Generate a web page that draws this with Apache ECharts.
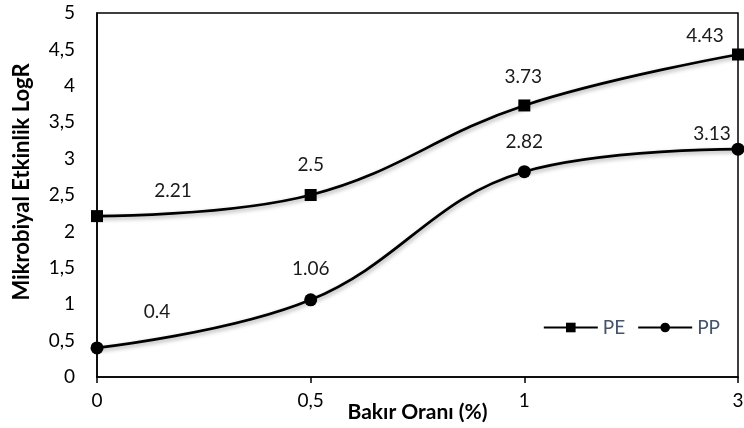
<!DOCTYPE html>
<html>
<head>
<meta charset="utf-8">
<script src="https://cdn.jsdelivr.net/npm/echarts@6/dist/echarts.min.js"></script>
<style>
  html, body { margin: 0; padding: 0; background: #ffffff; }
  #chart { width: 744px; height: 428px; }
</style>
</head>
<body>
<div id="chart"></div>
<script>
// Copper ratio categories on the x axis
const categories = ['0', '0,5', '1', '3'];
// Microbial activity (log reduction) per material
const pe = [2.21, 2.5, 3.73, 4.43];
const pp = [0.4, 1.06, 2.82, 3.13];
const seriesNames = ['PE', 'PP'];

// Label nudges (pixels, relative to each point)
const peLabelOffsets = [[76, -25], [0, -30], [-1, -29], [-33, -19]];
const ppLabelOffsets = [[60, -36], [0, -31], [0, -30], [-26, -15]];

const FONT = 'Lato, "Liberation Sans", sans-serif';

function withLabels(values, offsets) {
  return values.map((v, i) => ({
    value: v,
    label: { offset: offsets[i] }
  }));
}

const lineShadow = {
  color: '#000000',
  width: 2.75,
  shadowColor: 'rgba(0,0,0,0.35)',
  shadowBlur: 4,
  shadowOffsetX: 1,
  shadowOffsetY: 2
};

const labelStyle = {
  show: true,
  position: 'inside',
  color: '#1a1a1a',
  fontSize: 19,
  fontFamily: FONT,
  formatter: p => String(p.value)
};

const chart = echarts.init(document.getElementById('chart'), null, { renderer: 'canvas' });
chart.setOption({
  animation: false,
  backgroundColor: '#ffffff',
  grid: {
    left: 97, right: 6, top: 13, bottom: 51,
    outerBoundsMode: 'none',
    containLabel: false,
    show: true, borderColor: '#000000', borderWidth: 1.5,
    backgroundColor: 'transparent'
  },
  legend: {
    right: 19, top: 313,
    itemWidth: 54, itemHeight: 12, itemGap: 12,
    textStyle: { color: '#44546A', fontSize: 19, fontFamily: FONT },
    data: seriesNames
  },
  xAxis: {
    type: 'category',
    data: categories,
    boundaryGap: false,
    name: 'Bakır Oranı (%)',
    nameLocation: 'middle',
    nameGap: 25,
    nameMoveOverlap: false,
    nameTextStyle: { color: '#000000', fontWeight: 'bold', fontSize: 21, fontFamily: FONT },
    axisLine: { lineStyle: { color: '#000000', width: 1.5 } },
    axisTick: { show: true, length: 6, lineStyle: { color: '#000000', width: 1.5 } },
    axisLabel: { color: '#000000', fontSize: 19, fontFamily: FONT, margin: 14 },
    splitLine: { show: false }
  },
  yAxis: {
    type: 'value',
    min: 0, max: 5, interval: 0.5,
    name: 'Mikrobiyal Etkinlik LogR',
    nameLocation: 'middle',
    nameGap: 64,
    nameMoveOverlap: false,
    nameTextStyle: { color: '#000000', fontWeight: 'bold', fontSize: 22, fontFamily: FONT, padding: [0, 0, 0, 26] },
    axisLine: { show: true, lineStyle: { color: '#000000', width: 1.5 } },
    axisTick: { show: false },
    axisLabel: {
      color: '#000000', fontSize: 19, fontFamily: FONT, margin: 22,
      formatter: v => String(v).replace('.', ',')
    },
    splitLine: { show: false }
  },
  series: [
    {
      name: seriesNames[0],
      type: 'line',
      smooth: 0.4,
      data: withLabels(pe, peLabelOffsets),
      symbol: 'rect',
      symbolSize: 12,
      itemStyle: { color: '#000000' },
      lineStyle: lineShadow,
      label: labelStyle,
      z: 3
    },
    {
      name: seriesNames[1],
      type: 'line',
      smooth: 0.4,
      data: withLabels(pp, ppLabelOffsets),
      symbol: 'circle',
      symbolSize: 13,
      itemStyle: { color: '#000000' },
      lineStyle: lineShadow,
      label: labelStyle,
      z: 3
    }
  ]
});
</script>
</body>
</html>
